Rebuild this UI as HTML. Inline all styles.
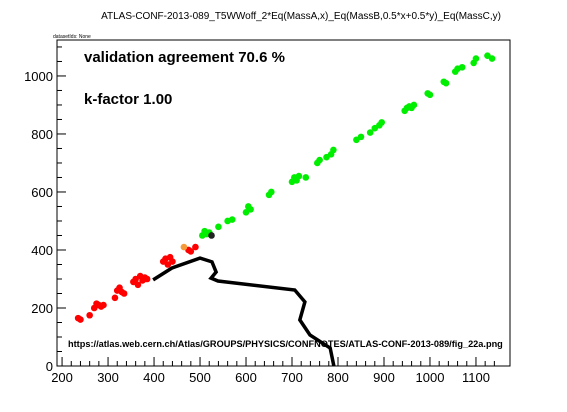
<!DOCTYPE html>
<html><head><meta charset="utf-8"><style>
body{margin:0;background:#fff;width:567px;height:407px;overflow:hidden;font-family:"Liberation Sans",sans-serif}
</style></head><body>
<svg id="chart" width="567" height="407" xmlns="http://www.w3.org/2000/svg" font-family="Liberation Sans, sans-serif">
<text x="301" y="19" font-size="10" text-anchor="middle">ATLAS-CONF-2013-089_T5WWoff_2*Eq(MassA,x)_Eq(MassB,0.5*x+0.5*y)_Eq(MassC,y)</text>
<text x="53" y="38" font-size="5">datasetIds: None</text>
<rect x="57" y="40" width="453" height="326" fill="none" stroke="#000" stroke-width="1"/>
<g id="axes"></g>
<g id="marks"></g>
<text x="84" y="62" font-size="15" font-weight="bold">validation agreement 70.6 %</text>
<text x="84" y="104" font-size="15" font-weight="bold">k-factor 1.00</text>
<text x="68" y="347" font-size="9.2" font-weight="bold">https://atlas.web.cern.ch/Atlas/GROUPS/PHYSICS/CONFNOTES/ATLAS-CONF-2013-089/fig_22a.png</text>
</svg>
<script>
const xTicks=[200,300,400,500,600,700,800,900,1000,1100];
const yTicks=[0,200,400,600,800,1000];
const redX=[235,240,260,270,275,280,285,290,315,320,325,330,335,355,360,365,370,375,380,385,420,425,430,435,440,475,480,490];
const redY=[165,160,175,200,215,210,205,210,235,260,270,255,250,290,300,280,310,295,305,300,360,370,350,375,360,400,395,410];
const orangeX=[465];const orangeY=[410];
const blackX=[525];const blackY=[450];
const greenX=[505,510,515,520,540,560,570,600,605,610,650,655,700,705,710,715,730,755,760,775,785,790,840,850,870,880,890,895,945,950,955,960,965,995,1000,1030,1035,1055,1060,1070,1095,1100,1125,1135];
const greenY=[450,465,455,460,480,500,505,530,550,540,590,600,635,650,640,655,650,700,710,720,730,745,780,790,805,820,830,840,880,890,895,890,900,940,935,980,975,1015,1025,1030,1045,1060,1070,1060];
const lineX=[398,439,500,526,535,524,539,706,728,717,739,783,791];
const lineY=[297,338,372,359,324,303,293,262,221,159,107,62,0];
const NS="http://www.w3.org/2000/svg";
const X0=189,X1=1174,Y0=0,Y1=1124,PL=57,PR=510,PT=40,PB=366;
const sx=v=>PL+(v-X0)/(X1-X0)*(PR-PL);
const sy=v=>PB-(v-Y0)/(Y1-Y0)*(PB-PT);
const axes=document.getElementById('axes'),marks=document.getElementById('marks');
function mk(t,a,p){const e=document.createElementNS(NS,t);for(const k in a)e.setAttribute(k,a[k]);p.appendChild(e);return e;}
for(let v=200;v<=1150;v+=20){const l=mk('line',{x1:sx(v),x2:sx(v),y1:PB,y2:PB-(v%100==0?9:5),stroke:'#000'},axes);

}
xTicks.forEach(v=>{const t=mk('text',{x:sx(v),y:382,'font-size':13,'text-anchor':'middle'},axes);t.textContent=v;

});
for(let v=0;v<=1100;v+=50){const l=mk('line',{x1:PL,x2:PL+(v%200==0?9:5),y1:sy(v),y2:sy(v),stroke:'#000'},axes);

}
yTicks.forEach(v=>{const t=mk('text',{x:53,y:sy(v)+5,'font-size':13,'text-anchor':'end'},axes);t.textContent=v;

});
const pl=mk('polyline',{points:lineX.map((x,i)=>sx(x)+','+sy(lineY[i])).join(' '),fill:'none',stroke:'#000','stroke-width':3.5},marks);


function pts(xs,ys,c,n){xs.forEach((x,i)=>{const e=mk('circle',{cx:sx(x),cy:sy(ys[i]),r:3.3,fill:c},marks);

});}
pts(redX,redY,'#ff0000','excluded-point');
pts(greenX,greenY,'#00ee00','allowed-point');
pts(orangeX,orangeY,'#f59a3a','borderline-point');
pts(blackX,blackY,'#222','black-point');
</script>
</body></html>
